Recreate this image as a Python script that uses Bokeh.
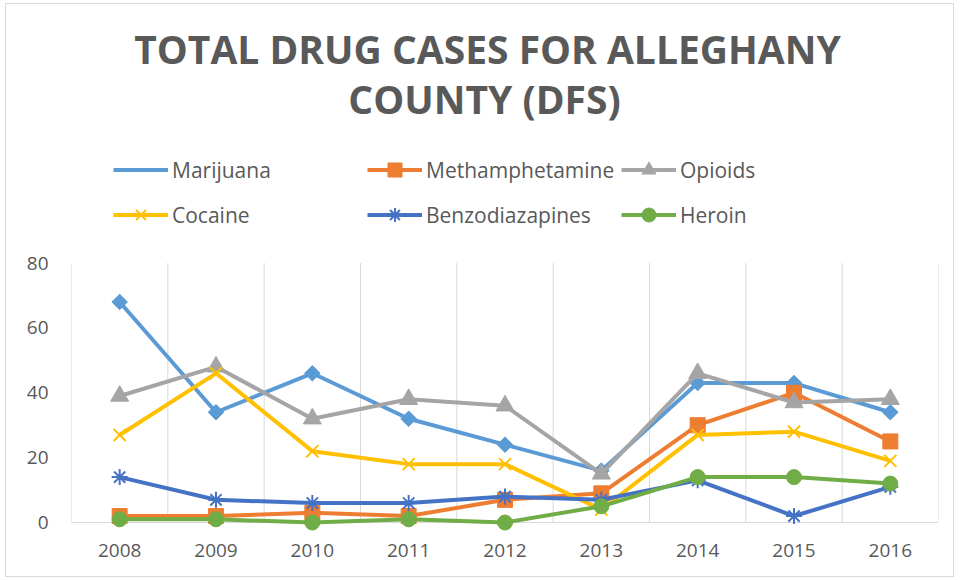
from bokeh.plotting import figure
from bokeh.models import Legend, LegendItem, Label, FixedTicker, Span
from bokeh.embed import file_html
from bokeh.resources import INLINE

years = ["2008", "2009", "2010", "2011", "2012", "2013", "2014", "2015", "2016"]
marijuana = [68, 34, 46, 32, 24, 16, 43, 43, 34]
methamphetamine = [2, 2, 3, 2, 7, 9, 30, 40, 25]
opioids = [39, 48, 32, 38, 36, 15, 46, 37, 38]
cocaine = [27, 46, 22, 18, 18, 4, 27, 28, 19]
benzodiazapines = [14, 7, 6, 6, 8, 7, 13, 2, 11]
heroin = [1, 1, 0, 1, 0, 5, 14, 14, 12]
y_ticks = [0, 20, 40, 60, 80]
title_lines = ["TOTAL DRUG CASES FOR ALLEGHANY", "COUNTY (DFS)"]

TEXT = "#595959"
GRID = "#d9d9d9"
FONT = "Open Sans"

xs = list(range(len(years)))
boundaries = [i - 0.5 for i in range(len(years) + 1)]

# the frame also holds the title and legend area above the data (y > 80)
p = figure(width=949, height=574, x_range=(-0.5, len(years) - 0.5), y_range=(-4, 159.7),
           output_backend="svg", toolbar_location=None, title=None,
           min_border_left=65, min_border_right=17, min_border_top=0, min_border_bottom=43,
           background_fill_color="white", border_fill_color="white",
           margin=(3, 0, 0, 5), styles={"border": "1px solid #d9d9d9"})
p.outline_line_color = None
p.xgrid.visible = False
p.ygrid.visible = False

p.segment(x0=boundaries, y0=[y_ticks[0]] * len(boundaries), x1=boundaries,
          y1=[y_ticks[-1]] * len(boundaries), line_color=GRID, line_width=1)
p.add_layout(Span(location=0, dimension="width", line_color=GRID, line_width=1, level="underlay"))

specs = [
    ("Marijuana", marijuana, "#5B9BD5", dict(marker="square", size=11, angle=0.7854), "diamond"),
    ("Methamphetamine", methamphetamine, "#ED7D31", dict(marker="square", size=15), None),
    ("Opioids", opioids, "#A5A5A5", dict(marker="triangle", size=18), None),
    ("Cocaine", cocaine, "#FFC000", dict(marker="x", size=17, line_width=2), None),
    ("Benzodiazapines", benzodiazapines, "#4472C4", dict(marker="asterisk", size=16, line_width=2), None),
    ("Heroin", heroin, "#70AD47", dict(marker="circle", size=15), None),
]

items = []
for name, vals, color, mk, legend_marker in specs:
    rl = p.line(xs, vals, line_color=color, line_width=4)
    rm = p.scatter(xs, vals, fill_color=color, line_color=color, **mk)
    if legend_marker is not None:
        rm = p.scatter(x=[], y=[], marker=legend_marker, fill_color=color, line_color=color)
    items.append(LegendItem(label=name, renderers=[rl, rm]))

legend = Legend(items=items, orientation="horizontal", ncols=3, location=(42, 298),
                padding=0, margin=0, spacing=0, glyph_width=55, glyph_height=35,
                label_height=45, label_width=195, label_standoff=4,
                label_text_font=FONT, label_text_font_size="21px", label_text_color=TEXT,
                border_line_color=None, background_fill_alpha=0)
p.add_layout(legend, "center")

title_x = [416, 413]
title_y = [487, 437]
for line, tx, ty in zip(title_lines, title_x, title_y):
    p.add_layout(Label(x=tx, y=ty, x_units="screen", y_units="screen", text=line,
                       text_align="center", text_baseline="alphabetic", text_font=FONT,
                       text_font_size="39px", text_font_style="bold", text_color=TEXT))

for ax in (p.xaxis, p.yaxis):
    ax.axis_line_color = None
    ax.major_tick_line_color = None
    ax.minor_tick_line_color = None
    ax.major_tick_out = 0
    ax.major_tick_in = 0
    ax.major_label_text_font = FONT
    ax.major_label_text_font_size = "19px"
    ax.major_label_text_color = TEXT

p.yaxis.ticker = FixedTicker(ticks=y_ticks)
p.yaxis.major_label_standoff = 23
p.xaxis.ticker = FixedTicker(ticks=xs)
p.xaxis.major_label_overrides = {i: y for i, y in zip(xs, years)}
p.xaxis.major_label_standoff = 8

open("out.html", "w").write(file_html(p, INLINE))
